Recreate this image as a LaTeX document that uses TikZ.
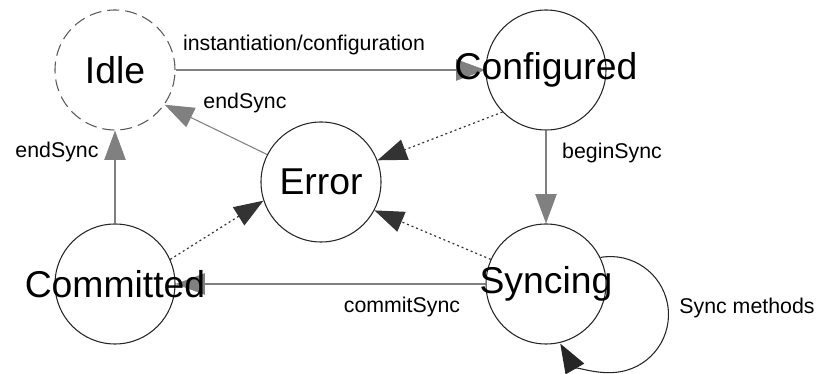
\documentclass[tikz,border=0pt]{standalone}
\usepackage{fontspec}
\setmainfont{Liberation Sans}
\usetikzlibrary{arrows.meta,backgrounds}

\newcommand\statetext[1]{\makebox[0pt]{#1}}

\begin{document}
\begin{tikzpicture}[x=0.75pt,y=0.75pt,
    state/.style={circle,draw=black!85,line width=0.8pt,minimum size=90pt,inner sep=0pt,font=\fontsize{28}{30}\selectfont},
    trans/.style={draw=black!50,line width=0.8pt,-{Triangle[length=22pt,width=16pt,fill=black!50]}},
    fail/.style={draw=black!80,line width=0.9pt,dash pattern=on 1.5pt off 2.2pt,-{Triangle[length=22pt,width=16pt,fill=black!80]}},
    lbl/.style={font=\fontsize{16}{18}\selectfont,inner sep=0pt}]
    \useasboundingbox (0,0) rectangle (819,374);

    \node[state,draw=black!65,dash pattern=on 9pt off 4.5pt] (idle) at (115,304) {\statetext{Idle}};
    \node[state] (configured) at (546,304) {\statetext{Configured}};
    \node[state] (error) at (321,192) {\statetext{Error}};
    \node[state] (committed) at (115,90) {\statetext{Committed}};
    \node[state] (syncing) at (546,90) {\statetext{Syncing}};

    \node[lbl] (l1) at (304,329) {instantiation/configuration};
    \node[lbl] (l2) at (245,271) {endSync};
    \node[lbl] (l3) at (57,222) {endSync};
    \node[lbl] (l4) at (612,221) {beginSync};
    \node[lbl] (l5) at (402,67) {commitSync};
    \node[lbl] (l6) at (747,66) {Sync methods};

    \begin{scope}[on background layer]
    \path
    (idle) edge[trans] (configured)
    (configured) edge[trans] (syncing)
    (syncing) edge[trans] (committed)
    (committed) edge[trans] (idle)
    (error.153) edge[trans] (idle.325);
    \path
    (configured.224) edge[fail] (error.21)
    (committed.24) edge[fail] (error.198)
    (syncing.156) edge[fail] (error.332);
    \draw[black!85,line width=0.8pt,-{Triangle[length=22pt,width=16pt]}]
    (syncing.26.6) arc[start angle=100,end angle=-150,radius=58];
    \end{scope}
\end{tikzpicture}
\end{document}
